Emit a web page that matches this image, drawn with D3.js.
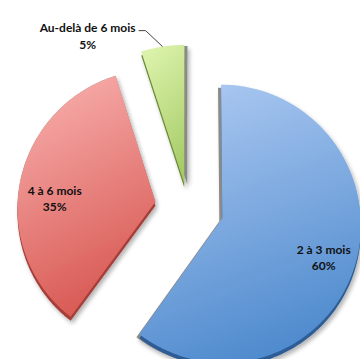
<!DOCTYPE html>
<html>
<head>
<meta charset="utf-8">
<script src="https://cdn.jsdelivr.net/npm/d3@7"></script>
<style>
  html, body { margin: 0; padding: 0; background: #ffffff; }
  svg { display: block; }
  text { font-family: Lato, "Open Sans", sans-serif; font-weight: bold; font-size: 12px; fill: #111; }
</style>
</head>
<body>
<svg id="chart" width="360" height="359"></svg>
<script>
// ---- data ----
const categories = ["2 à 3 mois", "4 à 6 mois", "Au-delà de 6 mois"];
const values = [60, 35, 5];
const percentLabels = ["60%", "35%", "5%"];

// ---- styling / layout config ----
const topColors = ["#a8c6f0", "#f7acaa", "#dbf2aa"];
const bottomColors = ["#4b88cc", "#d6544e", "#a6cb66"];
const sideColors = ["#2e5d96", "#a53e39", "#6a8a38"];
const explode = [36, 33, 24];
const radiusFactor = [1.0, 1.0, 1.06];
const labelFactor = [0.76, 0.76, null];
const labelNudge = [[0, 7], [2, 13], [0, 0]];

const W = 360, H = 359;
const C = [188, 207];
const R = 138;
const k = 0.04; // mild perspective
const depth = 4;

const svg = d3.select("#chart");
svg.append("rect").attr("width", W).attr("height", H).attr("fill", "#fff");

const defs = svg.append("defs");
categories.forEach((c, i) => {
  const g = defs.append("linearGradient").attr("id", "grad" + i)
    .attr("x1", 0.35).attr("y1", 0).attr("x2", 0.65).attr("y2", 1);
  g.append("stop").attr("offset", "0%").attr("stop-color", topColors[i]);
  g.append("stop").attr("offset", "100%").attr("stop-color", bottomColors[i]);
});
const f = defs.append("filter").attr("id", "shadow")
  .attr("x", "-20%").attr("y", "-20%").attr("width", "140%").attr("height", "140%");
f.append("feGaussianBlur").attr("in", "SourceAlpha").attr("stdDeviation", 2).attr("result", "b");
f.append("feOffset").attr("in", "b").attr("dx", 2).attr("dy", 3).attr("result", "o");
f.append("feComponentTransfer").attr("in", "o").attr("result", "o2")
  .append("feFuncA").attr("type", "linear").attr("slope", 0.3);
const fm = f.append("feMerge");
fm.append("feMergeNode").attr("in", "o2");
fm.append("feMergeNode").attr("in", "SourceGraphic");

function proj(px, py) {
  const s = 1 / (1 - k * py);
  return [C[0] + R * px * s, C[1] + R * py * s];
}

const pie = d3.pie().sort(null).value(d => d);
const arcs = pie(values);
const line = d3.line();

function slicePoints(a, i) {
  const mid = (a.startAngle + a.endAngle) / 2;
  const ax = Math.sin(mid) * explode[i] / R;
  const ay = -Math.cos(mid) * explode[i] / R;
  const rf = radiusFactor[i];
  const pts = [proj(ax, ay)];
  const n = Math.max(4, Math.ceil((a.endAngle - a.startAngle) / (Math.PI / 180)));
  for (let j = 0; j <= n; j++) {
    const t = a.startAngle + (a.endAngle - a.startAngle) * j / n;
    pts.push(proj(ax + rf * Math.sin(t), ay - rf * Math.cos(t)));
  }
  return { pts, ax, ay, mid, rf };
}

const geo = arcs.map((a, i) => slicePoints(a, i));

const gAll = svg.append("g");
arcs.forEach((a, i) => {
  const g = gAll.append("g").attr("filter", "url(#shadow)");
  const p = line(geo[i].pts) + "Z";
  // shaded radial side face
  g.append("path").attr("d", p).attr("fill", "#8a8a8a")
    .attr("transform", i === 0 ? "translate(-3,3)" : i === 2 ? "translate(3,1)" : "translate(0,0)");
  // depth (side face)
  g.append("path").attr("d", p).attr("fill", sideColors[i])
    .attr("transform", `translate(0,${depth})`);
  // top face
  g.append("path").attr("d", p).attr("fill", `url(#grad${i})`);
});

// ---- labels ----
const lg = svg.append("g");
arcs.forEach((a, i) => {
  const gm = geo[i];
  if (labelFactor[i] !== null) {
    const [x, y] = proj(gm.ax + labelFactor[i] * Math.sin(gm.mid), gm.ay - labelFactor[i] * Math.cos(gm.mid));
    const cx = x + labelNudge[i][0], cy = y + labelNudge[i][1];
    lg.append("text").attr("x", cx).attr("y", cy - 4).attr("text-anchor", "middle").text(categories[i]);
    lg.append("text").attr("x", cx).attr("y", cy + 12).attr("text-anchor", "middle").text(percentLabels[i]);
  } else {
    const end = proj(gm.ax + gm.rf * Math.sin(gm.mid), gm.ay - gm.rf * Math.cos(gm.mid));
    const elbow = [end[0] - 17, end[1] - 16];
    const tail = [elbow[0] - 7, elbow[1]];
    lg.append("path").attr("d", line([end, elbow, tail]))
      .attr("fill", "none").attr("stroke", "#444").attr("stroke-width", 1);
    const t1 = lg.append("text").attr("y", tail[1] + 1).attr("text-anchor", "end")
      .attr("x", tail[0] - 3).text(categories[i]);
    const w = t1.node().getComputedTextLength();
    const cx = tail[0] - 3 - w / 2;
    lg.append("text").attr("x", cx).attr("y", tail[1] + 18).attr("text-anchor", "middle").text(percentLabels[i]);
  }
});
</script>
</body>
</html>
